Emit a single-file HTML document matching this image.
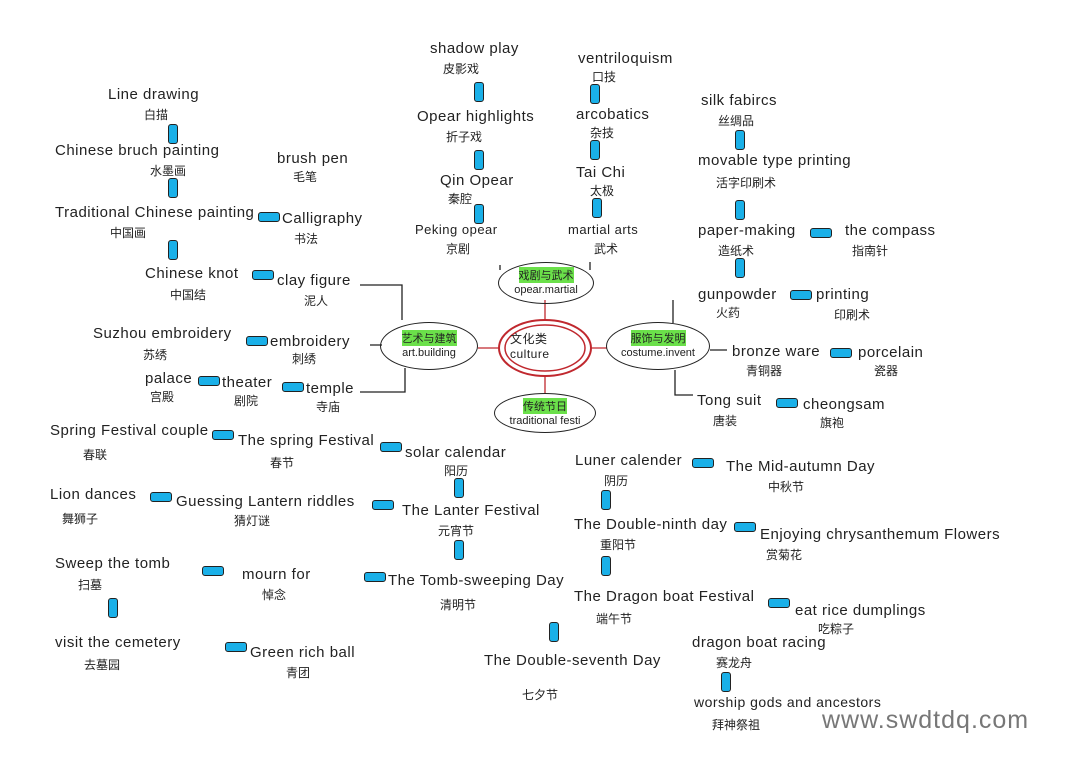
<!DOCTYPE html>
<html><head><meta charset="utf-8"><style>
body{margin:0;width:1080px;height:766px;background:#fff;position:relative;overflow:hidden;font-family:"Liberation Sans","Noto Sans CJK SC",sans-serif;color:#222}
.t{position:absolute;font-size:15px;white-space:nowrap;letter-spacing:0.5px}
.c{position:absolute;font-size:12px;white-space:nowrap;font-family:"Noto Sans CJK SC",sans-serif}
.h{position:absolute;width:20px;height:8px;background:#1ab0e8;border:1.5px solid #222;border-radius:3px}
.v{position:absolute;width:8px;height:18px;background:#1ab0e8;border:1.5px solid #222;border-radius:3px}
.e{position:absolute;border:1.5px solid #222;border-radius:50%;text-align:center;font-size:11px;line-height:14px;box-sizing:border-box;padding-top:5px}
.e b{font-weight:normal;background:#6be04a;font-family:"Noto Sans CJK SC",sans-serif}
</style></head><body>
<svg width="1080" height="766" style="position:absolute;left:0;top:0" fill="none" stroke="#222" stroke-width="1.3">
<ellipse cx="545" cy="348" rx="46" ry="28" stroke="#c0282e" stroke-width="2"/>
<ellipse cx="545" cy="348" rx="40" ry="23" stroke="#c0282e" stroke-width="1.5"/>
<path d="M545 320 V300 M500 348 H478 M590 348 H607 M545 376 V394" stroke="#c0282e"/>
<path d="M360 285 H402 V320 M370 345 H382 M360 392 H405 V368 M500 270 V265 M590 270 V262 M673 300 V323 M710 350 H727 M675 370 V395 H693"/>
</svg>
<div class="e" style="left:498px;top:262px;width:96px;height:42px"><b>戏剧与武术</b><br>opear.martial</div>
<div class="e" style="left:380px;top:322px;width:98px;height:48px;padding-top:8px"><b>艺术与建筑</b><br>art.building</div>
<div class="e" style="left:606px;top:322px;width:104px;height:48px;padding-top:8px"><b>服饰与发明</b><br>costume.invent</div>
<div class="e" style="left:494px;top:393px;width:102px;height:40px"><b>传统节日</b><br>traditional festi</div>
<div class="t" style="left:510px;top:330px;font-size:12px">文化类<br>culture</div>

<div class="t" style="left:430px;top:40px">shadow play</div><div class="c" style="left:443px;top:60px">皮影戏</div><div class="v" style="left:474px;top:82px"></div>
<div class="t" style="left:417px;top:108px">Opear highlights</div><div class="c" style="left:446px;top:128px">折子戏</div><div class="v" style="left:474px;top:150px"></div>
<div class="t" style="left:440px;top:172px">Qin Opear</div><div class="c" style="left:448px;top:190px">秦腔</div><div class="v" style="left:474px;top:204px"></div>
<div class="t" style="left:415px;top:222px;font-size:13px">Peking opear</div><div class="c" style="left:446px;top:240px">京剧</div>

<div class="t" style="left:578px;top:50px">ventriloquism</div><div class="c" style="left:592px;top:68px">口技</div><div class="v" style="left:590px;top:84px"></div>
<div class="t" style="left:576px;top:106px">arcobatics</div><div class="c" style="left:590px;top:124px">杂技</div><div class="v" style="left:590px;top:140px"></div>
<div class="t" style="left:576px;top:164px">Tai Chi</div><div class="c" style="left:590px;top:182px">太极</div><div class="v" style="left:592px;top:198px"></div>
<div class="t" style="left:568px;top:222px;font-size:13px">martial arts</div><div class="c" style="left:594px;top:240px">武术</div>

<div class="t" style="left:108px;top:86px">Line drawing</div><div class="c" style="left:144px;top:106px">白描</div><div class="v" style="left:168px;top:124px"></div>
<div class="t" style="left:55px;top:142px">Chinese bruch painting</div><div class="c" style="left:150px;top:162px">水墨画</div><div class="v" style="left:168px;top:178px"></div>
<div class="t" style="left:277px;top:150px">brush pen</div><div class="c" style="left:293px;top:168px">毛笔</div>
<div class="t" style="left:55px;top:204px">Traditional Chinese painting</div><div class="h" style="left:258px;top:212px"></div><div class="t" style="left:282px;top:210px">Calligraphy</div>
<div class="c" style="left:110px;top:224px">中国画</div><div class="c" style="left:294px;top:230px">书法</div><div class="v" style="left:168px;top:240px"></div>
<div class="t" style="left:145px;top:265px">Chinese knot</div><div class="h" style="left:252px;top:270px"></div><div class="t" style="left:277px;top:272px">clay figure</div>
<div class="c" style="left:170px;top:286px">中国结</div><div class="c" style="left:304px;top:292px">泥人</div>
<div class="t" style="left:93px;top:325px">Suzhou embroidery</div><div class="h" style="left:246px;top:336px"></div><div class="t" style="left:270px;top:333px">embroidery</div>
<div class="c" style="left:143px;top:346px">苏绣</div><div class="c" style="left:292px;top:350px">刺绣</div>
<div class="t" style="left:145px;top:370px">palace</div><div class="h" style="left:198px;top:376px"></div><div class="t" style="left:222px;top:374px">theater</div><div class="h" style="left:282px;top:382px"></div><div class="t" style="left:306px;top:380px">temple</div>
<div class="c" style="left:150px;top:388px">宫殿</div><div class="c" style="left:234px;top:392px">剧院</div><div class="c" style="left:316px;top:398px">寺庙</div>

<div class="t" style="left:701px;top:92px">silk fabircs</div><div class="c" style="left:718px;top:112px">丝绸品</div><div class="v" style="left:735px;top:130px"></div>
<div class="t" style="left:698px;top:152px">movable type printing</div><div class="c" style="left:716px;top:174px">活字印刷术</div><div class="v" style="left:735px;top:200px"></div>
<div class="t" style="left:698px;top:222px">paper-making</div><div class="h" style="left:810px;top:228px"></div><div class="t" style="left:845px;top:222px">the compass</div>
<div class="c" style="left:718px;top:242px">造纸术</div><div class="c" style="left:852px;top:242px">指南针</div><div class="v" style="left:735px;top:258px"></div>
<div class="t" style="left:698px;top:286px">gunpowder</div><div class="h" style="left:790px;top:290px"></div><div class="t" style="left:816px;top:286px">printing</div>
<div class="c" style="left:716px;top:304px">火药</div><div class="c" style="left:834px;top:306px">印刷术</div>
<div class="t" style="left:732px;top:343px">bronze ware</div><div class="h" style="left:830px;top:348px"></div><div class="t" style="left:858px;top:344px">porcelain</div>
<div class="c" style="left:746px;top:362px">青铜器</div><div class="c" style="left:874px;top:362px">瓷器</div>
<div class="t" style="left:697px;top:392px">Tong suit</div><div class="h" style="left:776px;top:398px"></div><div class="t" style="left:803px;top:396px">cheongsam</div>
<div class="c" style="left:713px;top:412px">唐装</div><div class="c" style="left:820px;top:414px">旗袍</div>

<div class="t" style="left:50px;top:422px">Spring Festival couple</div><div class="h" style="left:212px;top:430px"></div><div class="t" style="left:238px;top:432px">The spring Festival</div><div class="h" style="left:380px;top:442px"></div><div class="t" style="left:405px;top:444px">solar calendar</div>
<div class="c" style="left:83px;top:446px">春联</div><div class="c" style="left:270px;top:454px">春节</div><div class="c" style="left:444px;top:462px">阳历</div><div class="v" style="left:454px;top:478px"></div>
<div class="t" style="left:50px;top:486px">Lion dances</div><div class="h" style="left:150px;top:492px"></div><div class="t" style="left:176px;top:493px">Guessing Lantern riddles</div><div class="h" style="left:372px;top:500px"></div><div class="t" style="left:402px;top:502px">The Lanter Festival</div>
<div class="c" style="left:62px;top:510px">舞狮子</div><div class="c" style="left:234px;top:512px">猜灯谜</div><div class="c" style="left:438px;top:522px">元宵节</div><div class="v" style="left:454px;top:540px"></div>
<div class="t" style="left:55px;top:555px">Sweep the tomb</div><div class="h" style="left:202px;top:566px"></div><div class="t" style="left:242px;top:566px">mourn for</div><div class="h" style="left:364px;top:572px"></div><div class="t" style="left:388px;top:572px">The Tomb-sweeping Day</div>
<div class="c" style="left:78px;top:576px">扫墓</div><div class="c" style="left:262px;top:586px">悼念</div><div class="c" style="left:440px;top:596px">清明节</div><div class="v" style="left:108px;top:598px"></div>
<div class="t" style="left:55px;top:634px">visit the cemetery</div><div class="h" style="left:225px;top:642px"></div><div class="t" style="left:250px;top:644px">Green rich ball</div>
<div class="c" style="left:84px;top:656px">去墓园</div><div class="c" style="left:286px;top:664px">青团</div>

<div class="t" style="left:575px;top:452px">Luner calender</div><div class="h" style="left:692px;top:458px"></div><div class="t" style="left:726px;top:458px">The Mid-autumn Day</div>
<div class="c" style="left:604px;top:472px">阴历</div><div class="c" style="left:768px;top:478px">中秋节</div><div class="v" style="left:601px;top:490px"></div>
<div class="t" style="left:574px;top:516px">The Double-ninth day</div><div class="h" style="left:734px;top:522px"></div><div class="t" style="left:760px;top:526px">Enjoying chrysanthemum Flowers</div>
<div class="c" style="left:600px;top:536px">重阳节</div><div class="c" style="left:766px;top:546px">赏菊花</div><div class="v" style="left:601px;top:556px"></div>
<div class="t" style="left:574px;top:588px">The Dragon boat Festival</div><div class="h" style="left:768px;top:598px"></div><div class="t" style="left:795px;top:602px">eat rice dumplings</div>
<div class="c" style="left:596px;top:610px">端午节</div><div class="c" style="left:818px;top:620px">吃粽子</div><div class="v" style="left:549px;top:622px"></div>
<div class="t" style="left:692px;top:634px">dragon boat racing</div><div class="c" style="left:716px;top:654px">赛龙舟</div><div class="v" style="left:721px;top:672px"></div>
<div class="t" style="left:484px;top:652px">The Double-seventh Day</div><div class="c" style="left:522px;top:686px">七夕节</div>
<div class="t" style="left:694px;top:694px;font-size:14px">worship gods and ancestors</div><div class="c" style="left:712px;top:716px">拜神祭祖</div>
<div class="t" style="left:822px;top:706px;font-size:25px;color:#777;letter-spacing:1px">www.swdtdq.com</div>
</body></html>
